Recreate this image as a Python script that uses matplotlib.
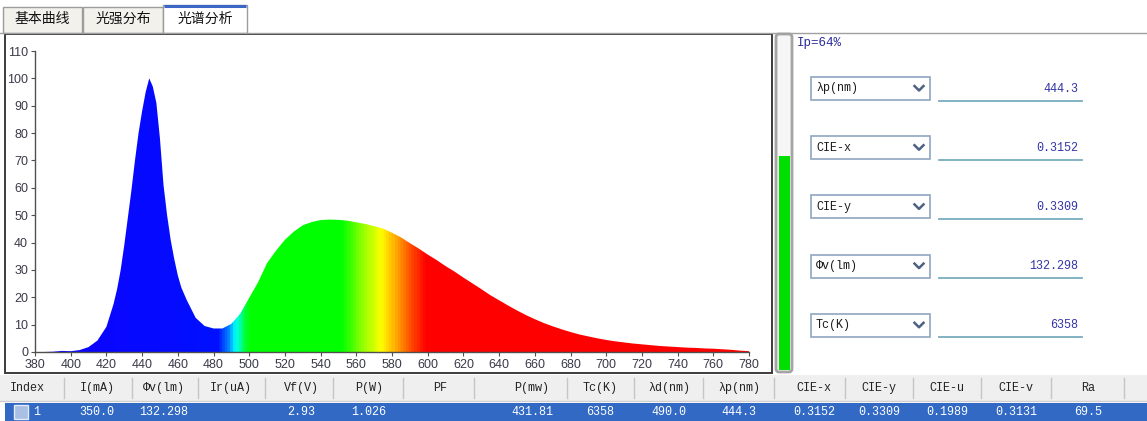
import numpy as np
import matplotlib.pyplot as plt
from matplotlib.colors import LinearSegmentedColormap
from matplotlib.patches import Rectangle, FancyBboxPatch

# spectrum (nm, relative intensity %)
wavelength = [380, 385, 390, 395, 400, 405, 410, 415, 420, 424, 426, 428, 430,
              432, 434, 436, 438, 440, 442, 444, 446, 448, 450, 452, 454, 456,
              458, 460, 462, 465, 470, 475, 480, 485, 490, 495, 500, 505, 510,
              515, 520, 525, 530, 535, 540, 545, 550, 555, 560, 565, 570, 575,
              580, 585, 590, 595, 600, 605, 610, 615, 620, 625, 630, 635, 640,
              645, 650, 655, 660, 665, 670, 675, 680, 685, 690, 695, 700, 705,
              710, 715, 720, 725, 730, 735, 740, 745, 750, 755, 760, 765, 770,
              775, 780]
intensity = [0.0, 0.0, 0.1, 0.4, 0.3, 0.7, 1.8, 4.2, 9.2, 17.5, 23.0, 30.0, 39.0,
             49.0, 59.0, 70.0, 80.0, 88.0, 95.0, 100.0, 97.0, 91.0, 78.0, 61.0, 50.0, 41.0,
             34.0, 28.0, 23.5, 19.0, 12.5, 9.5, 8.6, 8.6, 10.3, 14.0, 19.8, 25.5, 32.5,
             37.0, 41.0, 44.0, 46.3, 47.5, 48.2, 48.4, 48.3, 48.0, 47.4, 46.8, 46.0, 45.1,
             43.6, 41.9, 39.8, 37.8, 35.6, 33.6, 31.4, 29.4, 27.2, 25.1, 23.0, 20.8, 18.9,
             17.0, 15.2, 13.5, 12.0, 10.6, 9.4, 8.3, 7.3, 6.4, 5.7, 5.0, 4.4, 3.9,
             3.5, 3.1, 2.8, 2.5, 2.2, 2.0, 1.8, 1.6, 1.5, 1.3, 1.2, 1.0, 0.8,
             0.5, 0.3]

tab_names = ["基本曲线", "光强分布", "光谱分析"]
ip_percent = 64
param_names = ["λp(nm)", "CIE-x", "CIE-y", "Φv(lm)", "Tc(K)"]
param_values = ["444.3", "0.3152", "0.3309", "132.298", "6358"]
col_names = ["Index", "I(mA)", "Φv(lm)", "Ir(uA)", "Vf(V)", "P(W)", "PF", "P(mw)",
             "Tc(K)", "λd(nm)", "λp(nm)", "CIE-x", "CIE-y", "CIE-u", "CIE-v", "Ra"]
row_values = ["1", "350.0", "132.298", "", "2.93", "1.026", "", "431.81",
              "6358", "490.0", "444.3", "0.3152", "0.3309", "0.1989", "0.3131", "69.5"]

W, H = 1147, 421
fig = plt.figure(figsize=(W / 100, H / 100), dpi=100)
fig.patch.set_facecolor("white")

mono = ["Liberation Mono", "DejaVu Sans Mono"]
cjk = ["Noto Sans CJK SC", "DejaVu Sans"]

# window chrome drawn in pixel coordinates
ui = fig.add_axes([0, 0, 1, 1])
ui.set_xlim(0, W)
ui.set_ylim(H, 0)
ui.axis("off")

# tabs
ui.plot([0, W], [32.5, 32.5], color="#a0a0a0", lw=1)
tab_edges = [(3, 82), (83, 163), (163, 247)]
for i, (name, (x0, x1)) in enumerate(zip(tab_names, tab_edges)):
    sel = i == 2
    top = 5 if sel else 7
    ui.add_patch(Rectangle((x0, top), x1 - x0, 33 - top,
                           fc="white" if sel else "#f2f1ec", ec="#9c9c9c", lw=1))
    if sel:
        ui.plot([x0 + 1, x1 - 1], [top + 0.8, top + 0.8], color="#3a66c6", lw=2.2,
                solid_capstyle="butt")
    ui.text((x0 + x1) / 2, 18.5, name, ha="center", va="center", fontsize=10,
            family=cjk, color="#111111")

# chart frame
ui.add_patch(Rectangle((4.5, 33.5), 767.5, 339.5, fc="white", ec="#3c3c3c", lw=1.4))

# Ip bar
ui.add_patch(FancyBboxPatch((776, 34), 16, 338, boxstyle="round,pad=0,rounding_size=3",
                            fc="#f6f6f6", ec="#a4a4a4", lw=2))
bar_bottom, bar_top = 370, 35
g_h = (bar_bottom - bar_top) * ip_percent / 100
ui.add_patch(Rectangle((778.5, bar_bottom - g_h), 11, g_h, fc="#00e000", ec="none"))
ui.text(797, 43, f"Ip={ip_percent}%", ha="left", va="center", fontsize=9,
        family=mono, color="#2a2a9c")

# parameter boxes on the right
for i, (name, val) in enumerate(zip(param_names, param_values)):
    top = 77 + i * 59.2
    ui.add_patch(Rectangle((811, top), 119, 23, fc="white", ec="#8fa6c0", lw=1.2))
    ui.text(816, top + 11.5, name, ha="left", va="center", fontsize=8.5,
            family=mono, color="#1a1a1a")
    ui.plot([914.5, 919, 923.5], [top + 9, top + 13.5, top + 9], color="#4d6185", lw=1.8)
    ui.plot([939, 1082], [top + 23.5, top + 23.5], color="#78aebf", lw=1.3)
    ui.text(1078, top + 11.5, val, ha="right", va="center", fontsize=8.5,
            family=mono, color="#3434a8")

# table header + selected row
ui.add_patch(Rectangle((0, 375), W, 26, fc="#efefef", ec="none"))
ui.plot([0, W], [401, 401], color="#cfcfcf", lw=1)
col_x = [10, 97, 164, 231, 301, 369, 440, 532, 600, 669, 739, 814, 879, 947, 1016, 1088]
seps = [64, 132, 198, 265, 333, 403, 474, 567, 634, 703, 774, 845, 913, 981, 1051, 1124]
for s in seps:
    ui.plot([s, s], [378, 398], color="#c6c6c6", lw=1)
ui.add_patch(Rectangle((5, 402.5), W - 5, 19, fc="#3169c5", ec="none"))
ui.add_patch(Rectangle((14, 405), 14, 14, fc="#a9bfe3", ec="#e4ebf7", lw=1))
for i, (name, val) in enumerate(zip(col_names, row_values)):
    if i == 0:
        ui.text(col_x[i], 388, name, ha="left", va="center", fontsize=8.5,
                family=mono, color="#222222")
        ui.text(33, 412, val, ha="left", va="center", fontsize=8.5,
                family=mono, color="white")
        continue
    ui.text(col_x[i], 388, name, ha="center", va="center", fontsize=8.5,
            family=mono, color="#222222")
    ui.text(col_x[i], 412, val, ha="center", va="center", fontsize=8.5,
            family=mono, color="white")

# spectrum axes
ax = fig.add_axes([35 / W, (H - 352) / H, 714 / W, 301 / H])
ax.set_xlim(380, 780)
ax.set_ylim(0, 110)
ax.set_xticks(range(380, 781, 20))
ax.set_yticks(range(0, 111, 10))
for side in ["top", "right"]:
    ax.spines[side].set_visible(False)
for side in ["left", "bottom"]:
    ax.spines[side].set_color("#505050")
    ax.spines[side].set_linewidth(1)
ax.tick_params(length=3, width=0.8, color="#505050", labelsize=9,
               labelcolor="#3a3a4a", pad=2)
for lab in ax.get_xticklabels() + ax.get_yticklabels():
    lab.set_family("Liberation Sans")

# rainbow fill clipped to the spectrum
stops = [(380, "#1000ff"), (482, "#0010ff"), (488, "#0080ff"), (492, "#00ffff"),
         (497, "#00ff40"), (500, "#00ff00"), (552, "#00ff00"), (562, "#80ff00"),
         (574, "#ffff00"), (583, "#ffa000"), (592, "#ff4000"), (599, "#ff0000"),
         (780, "#ff0000")]
spec_cmap = LinearSegmentedColormap.from_list(
    "spec", [((w - 380) / 400, c) for w, c in stops])
grad_x = np.linspace(380, 780, 801)
img = ax.imshow(grad_x[np.newaxis, :], extent=[380, 780, 0, 110], aspect="auto",
                cmap=spec_cmap, vmin=380, vmax=780, origin="lower", zorder=2)
poly = ax.fill_between(wavelength, intensity, 0, color="none", lw=0)
img.set_clip_path(poly.get_paths()[0], transform=ax.transData)

fig.savefig("out.png", dpi=100)
